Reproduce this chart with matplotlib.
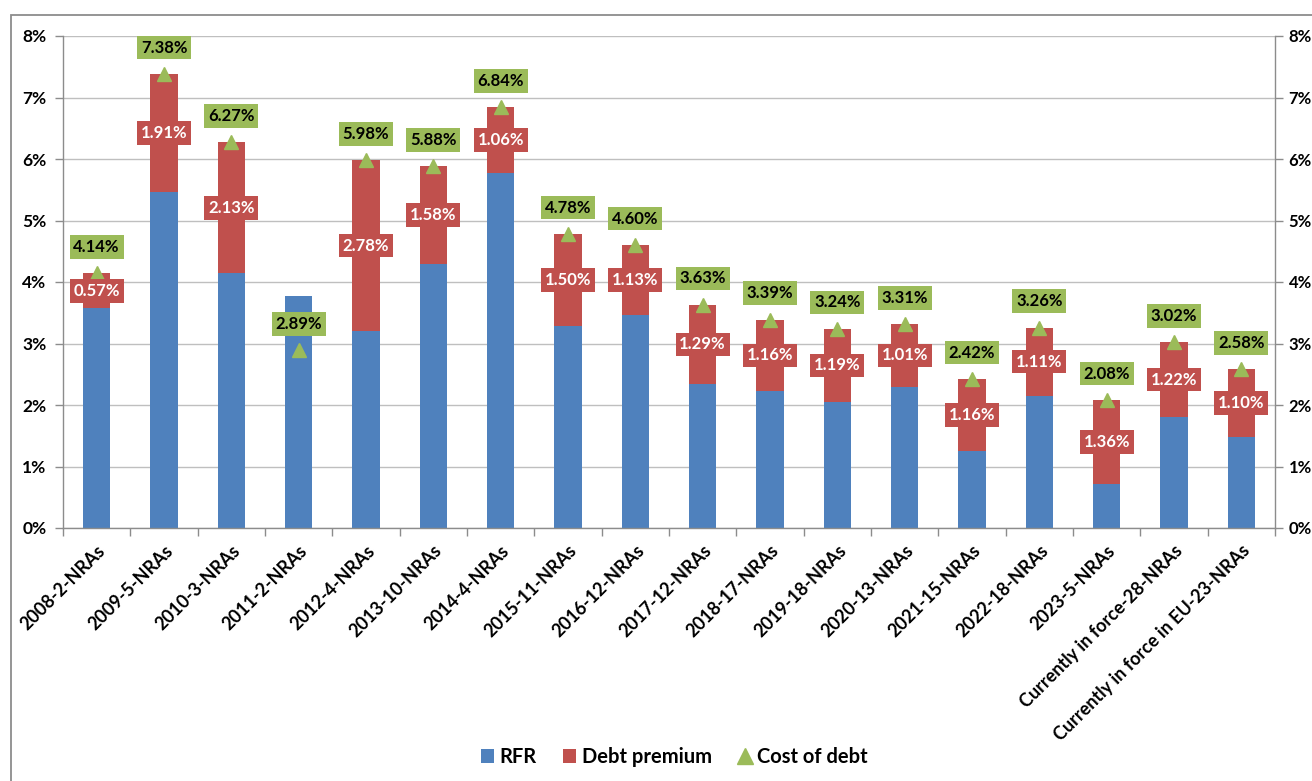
import matplotlib
matplotlib.use("Agg")
import matplotlib.pyplot as plt
from matplotlib.patches import Rectangle
from matplotlib.lines import Line2D
from matplotlib.ticker import FuncFormatter, MultipleLocator
import numpy as np

plt.rcParams["font.family"] = ["Lato", "DejaVu Sans"]
plt.rcParams["font.weight"] = "bold"

categories = [
    "2008-2-NRAs", "2009-5-NRAs", "2010-3-NRAs", "2011-2-NRAs", "2012-4-NRAs",
    "2013-10-NRAs", "2014-4-NRAs", "2015-11-NRAs", "2016-12-NRAs", "2017-12-NRAs",
    "2018-17-NRAs", "2019-18-NRAs", "2020-13-NRAs", "2021-15-NRAs", "2022-18-NRAs",
    "2023-5-NRAs", "Currently in force-28-NRAs", "Currently in force in EU-23-NRAs",
]
rfr = [3.57, 5.47, 4.14, 3.77, 3.20, 4.30, 5.78, 3.28, 3.47, 2.34,
       2.23, 2.05, 2.30, 1.26, 2.15, 0.72, 1.80, 1.48]
debt_premium = [0.57, 1.91, 2.13, -0.88, 2.78, 1.58, 1.06, 1.50, 1.13, 1.29,
                1.16, 1.19, 1.01, 1.16, 1.11, 1.36, 1.22, 1.10]
cost_of_debt = [4.14, 7.38, 6.27, 2.89, 5.98, 5.88, 6.84, 4.78, 4.60, 3.63,
                3.39, 3.24, 3.31, 2.42, 3.26, 2.08, 3.02, 2.58]

BLUE = "#4F81BD"
RED = "#C0504D"
GREEN = "#9BBB59"
GRID = "#BFBFBF"
AXIS = "#8C8C8C"

W, H = 1312, 781
fig = plt.figure(figsize=(W / 100, H / 100), dpi=100)
ax = fig.add_axes([63 / W, 1 - 528 / H, (1275 - 63) / W, (528 - 36) / H])

x = np.arange(len(categories))
rfr_a = np.array(rfr)
prem_a = np.array(debt_premium)
# Excel-style stacking: negative premiums start from zero
prem_bottom = np.where(prem_a >= 0, rfr_a, 0.0)

bar_w = 0.41
ax.bar(x, rfr_a, bar_w, color=BLUE, zorder=2)
ax.bar(x, prem_a, bar_w, bottom=prem_bottom, color=RED, zorder=2)
ax.plot(x, cost_of_debt, linestyle="none", marker="^", markersize=9.5,
        color=GREEN, zorder=4)

LABEL_SIZE = 12

# premium labels in the middle of the red segment
for xi, b, p in zip(x, prem_bottom, prem_a):
    if p > 0:
        ax.text(xi, b + p / 2, f"{p:.2f}%", ha="center", va="center",
                color="white", fontsize=LABEL_SIZE, fontweight="bold", zorder=5,
                bbox=dict(boxstyle="square,pad=0.22", fc=RED, ec="none"))

# cost of debt labels above the markers
for xi, c in zip(x, cost_of_debt):
    ax.annotate(f"{c:.2f}%", (xi, c), xytext=(0, 19), textcoords="offset points",
                ha="center", va="center", color="black", fontsize=LABEL_SIZE,
                fontweight="bold", zorder=5,
                bbox=dict(boxstyle="square,pad=0.22", fc=GREEN, ec="none"))

ax.set_xlim(-0.5, len(categories) - 0.5)
ax.set_ylim(0, 8)
ax.yaxis.set_major_locator(MultipleLocator(1))
ax.yaxis.set_major_formatter(FuncFormatter(lambda v, _: f"{v:.0f}%"))
ax.grid(axis="y", color=GRID, linewidth=1.0, zorder=0)
ax.set_axisbelow(True)

ax.set_xticks(x)
ax.set_xticklabels(categories, rotation=45, ha="right", va="top",
                   rotation_mode="anchor", fontsize=13, fontweight="bold")
ax.set_xticks(np.arange(-0.5, len(categories)), minor=True)
ax.tick_params(axis="x", which="major", length=0, pad=10)
ax.tick_params(axis="x", which="minor", length=6, color=AXIS, width=1)
ax.tick_params(axis="y", which="major", length=6, color=AXIS, width=1,
               left=True, labelleft=True, labelsize=12.5, pad=6)
ax.tick_params(axis="y", which="major", right=True, labelright=True)
for lab in ax.get_yticklabels(which="both"):
    lab.set_fontweight("bold")
# right-hand labels sit closer so they stay inside the canvas
for t in ax.yaxis.get_major_ticks():
    t.label2.set_fontsize(12)
    t.set_pad(6)
ax.yaxis.set_tick_params(which="major", pad=6)
for t in ax.yaxis.get_major_ticks():
    t.label2.set_x(1.0)

for side in ("left", "right", "bottom"):
    ax.spines[side].set_color(AXIS)
    ax.spines[side].set_linewidth(1.0)
ax.spines["top"].set_visible(False)

handles = [
    Rectangle((0, 0), 1, 1, fc=BLUE, ec="none"),
    Rectangle((0, 0), 1, 1, fc=RED, ec="none"),
    Line2D([], [], linestyle="none", marker="^", markersize=12, color=GREEN),
]
fig.legend(handles, ["RFR", "Debt premium", "Cost of debt"], loc="center",
           bbox_to_anchor=(0.514, 1 - 757 / H), ncol=3, frameon=False,
           prop={"weight": "bold", "size": 14.5}, handlelength=0.65,
           handleheight=0.65, handletextpad=0.3, columnspacing=1.3)

# chart-area frame
fig.add_artist(Rectangle((11 / W, -0.1), 1.2, (1 - 15 / H) + 0.1,
                         transform=fig.transFigure, fill=False,
                         edgecolor="#8C8C8C", linewidth=1.3))

fig.canvas.draw()
# nudge right tick labels left by a couple of pixels
from matplotlib.transforms import ScaledTranslation
shift = ScaledTranslation(-3 / 100, 0, fig.dpi_scale_trans)
for t in ax.yaxis.get_major_ticks():
    t.label2.set_transform(t.label2.get_transform() + shift)

fig.savefig("out.png", dpi=100)
